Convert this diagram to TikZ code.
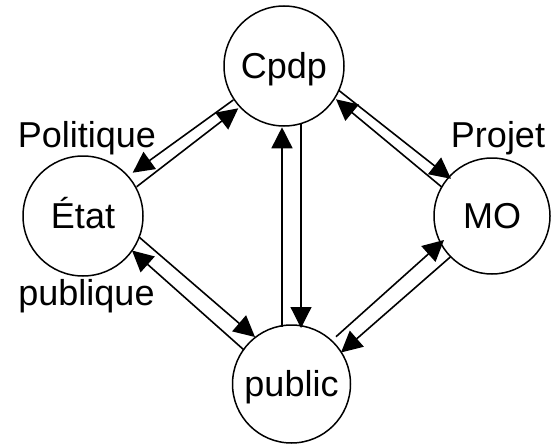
\documentclass[tikz,border=0pt]{standalone}
\usepackage{fontspec}
\setmainfont{Liberation Sans}
\usetikzlibrary{arrows.meta,calc}
\begin{document}
\begin{tikzpicture}[x=1pt,y=-1pt,
  state/.style={circle,draw,line width=1.5pt,minimum size=120pt,inner sep=0pt,outer sep=0pt,
    font=\fontsize{36}{43}\selectfont,text height=25.8pt,text depth=0pt},
  lbl/.style={anchor=base,inner sep=0pt,font=\fontsize{36}{43}\selectfont},
  arr/.style={line width=1.6pt,-{Triangle[length=21pt,width=21pt]}}]
\useasboundingbox (0,0) rectangle (551,444);
\node[state] (Cpdp) at (284,66) {Cpdp};
\node[state] (Etat) at (83,216) {État};
\node[state,minimum size=116pt] (MO) at (492,216) {MO};
\node[state,minimum size=118pt] (public) at (291.5,384) {public};

\node[lbl] (pol) at (87,147) {Politique};
\node[lbl] (pub) at (86.5,305) {publique};
\node[lbl] (proj) at (498,147) {Projet};

\draw[arr] ($(Cpdp)+(-50.7,34)$) -- ($(Etat)+(49.7,-43.3)$);
\draw[arr] ($(Etat)+(53.7,-29.3)$) -- ($(Cpdp)+(-45.7,42.3)$);
\draw[arr] ($(Cpdp)+(54.3,24)$) -- ($(MO)+(-41,-37.2)$);
\draw[arr] ($(MO)+(-50.3,-29)$) -- ($(Cpdp)+(52,33.3)$);
\draw[arr] ($(Etat)+(56,21)$) -- ($(public)+(-36.5,-47)$);
\draw[arr] ($(public)+(-47.5,-34)$) -- ($(Etat)+(49,34.5)$);
\draw[arr] ($(public)+(44.5,-47.3)$) -- ($(MO)+(-48,24)$);
\draw[arr] ($(MO)+(-41.7,41)$) -- ($(public)+(49.5,-31.5)$);
\draw[arr] ($(public)+(-9.5,-57.5)$) -- ($(Cpdp)+(-2,61.3)$);
\draw[arr,line width=1.2pt] ($(Cpdp)+(17,58)$) -- ($(public)+(9.5,-56)$);
\end{tikzpicture}
\end{document}
